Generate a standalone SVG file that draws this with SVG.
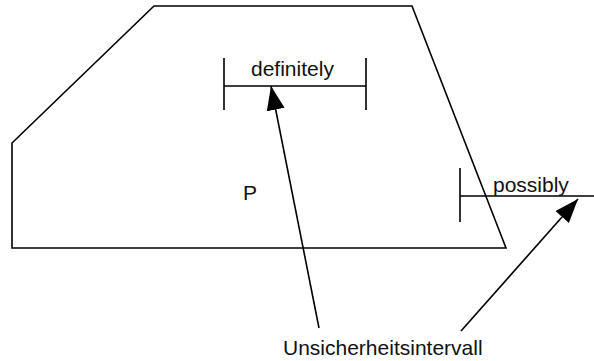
<svg xmlns="http://www.w3.org/2000/svg" width="594" height="361" viewBox="0 0 594 361">
<style>
.ln{fill:none;stroke:#000;stroke-width:1.6}
.t{font-family:"Liberation Sans",Arial,sans-serif;font-size:21px;fill:#111}
</style>
<defs>
<marker id="ah" markerUnits="userSpaceOnUse" markerWidth="26" markerHeight="20" refX="24" refY="9" orient="auto">
<path d="M0,0 L24,9 L0,18 Z" fill="#000"/>
</marker>
</defs>
<rect width="594" height="361" fill="#fff"/>
<g id="region-P">
<path class="ln" d="M154,6 L412,6 L506,248 L12,248 L12,143 Z"/>
<text class="t" x="243" y="200">P</text>
</g>
<g id="interval-definitely">
<path class="ln" d="M224,58 V110 M224,86 H366 M366,58 V110"/>
<text class="t" x="251" y="76">definitely</text>
</g>
<g id="interval-possibly">
<path class="ln" d="M460,168 V222 M460,196 H594"/>
<text class="t" x="493" y="192">possibly</text>
</g>
<g id="label">
<text class="t" x="283" y="355">Unsicherheitsintervall</text>
</g>
<g id="connectors">
<path class="ln" d="M319,328 L271,86" marker-end="url(#ah)"/>
<path class="ln" d="M461,331 L578,199" marker-end="url(#ah)"/>
</g>
</svg>
